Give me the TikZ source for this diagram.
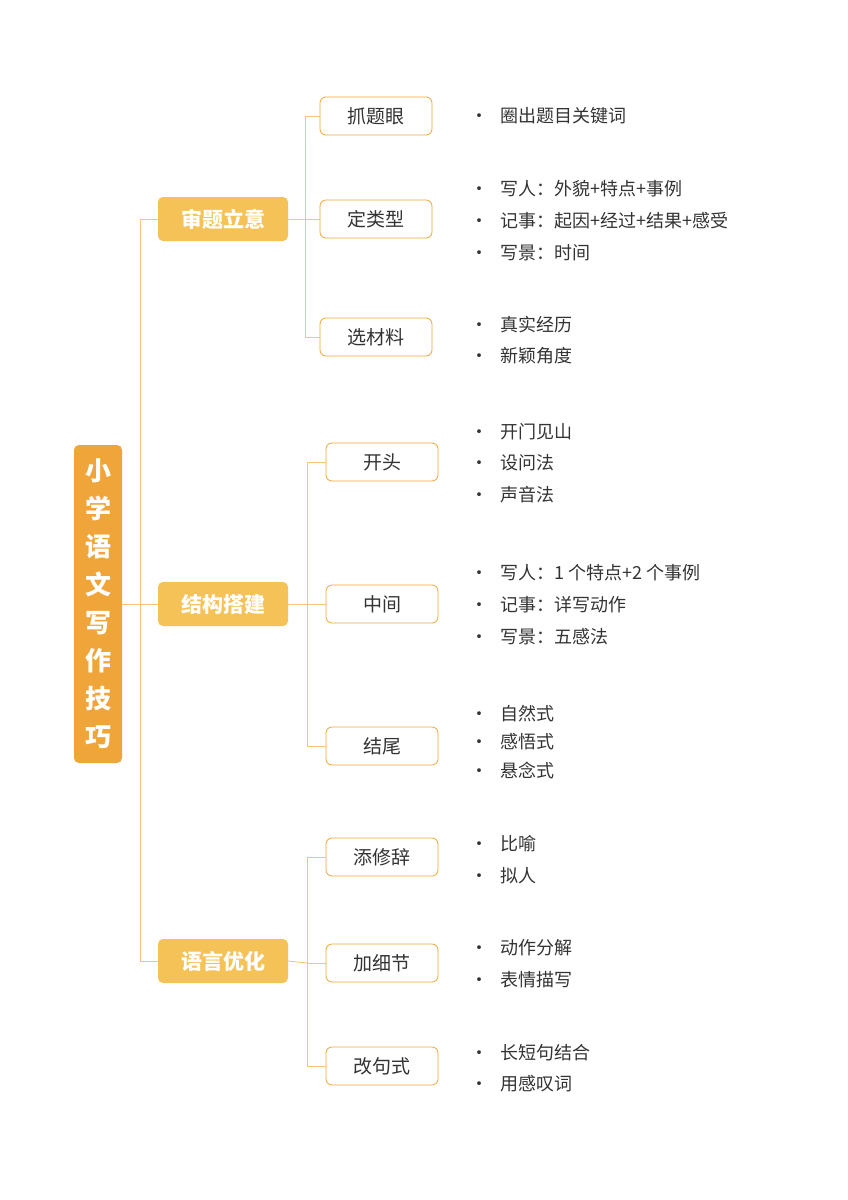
\documentclass[tikz,border=0pt]{standalone}
\usepackage{fontspec}
\setmainfont{Noto Sans CJK SC}
\definecolor{rootc}{HTML}{F0A53A}
\definecolor{lonec}{HTML}{F4C257}
\definecolor{linec}{HTML}{F5C67A}
\definecolor{txt}{HTML}{333333}
\begin{document}
\begin{tikzpicture}[x=1pt,y=-1pt,
  rootbox/.style={fill=rootc,rounded corners=5pt,minimum width=48pt,minimum height=318pt,text=white,font=\bfseries\fontsize{26}{38}\selectfont,align=center,inner sep=0pt},
  onebox/.style={fill=lonec,rounded corners=5pt,minimum width=130pt,minimum height=44pt,text=white,font=\bfseries\fontsize{21}{24}\selectfont,inner sep=0pt},
  twobox/.style={draw=rootc,fill=white,rounded corners=6pt,minimum width=112pt,minimum height=38pt,text=txt,font=\fontsize{19}{22}\selectfont,inner sep=0pt,line width=0.8pt},
  leaf/.style={anchor=west,text=txt,font=\fontsize{18}{20}\selectfont,inner sep=0pt},
  conn/.style={draw=linec,line width=0.9pt}]
\useasboundingbox (0,0) rectangle (848,1200);
\node[rootbox] (r) at (98,604) {小\\学\\语\\文\\写\\作\\技\\巧};
\node[onebox] (a) at (223,219) {审题立意};
\node[onebox] (b) at (223,604) {结构搭建};
\node[onebox] (c) at (223,961) {语言优化};
\node[twobox] (a1) at (376,116) {抓题眼};
\node[twobox] (a2) at (376,219) {定类型};
\node[twobox] (a3) at (376,337) {选材料};
\node[twobox] (b1) at (382,462) {开头};
\node[twobox] (b2) at (382,604) {中间};
\node[twobox] (b3) at (382,746) {结尾};
\node[twobox] (c1) at (382,857) {添修辞};
\node[twobox] (c2) at (382,963) {加细节};
\node[twobox] (c3) at (382,1066) {改句式};
\coordinate (rj) at (140,604);
\draw[conn] (r.east) -- (rj);
\foreach \n in {a,b,c} \draw[conn] (rj) |- (\n.west);
\coordinate (aj) at (305,219);
\draw[conn] (a.east) -- (aj);
\foreach \n in {a1,a2,a3} \draw[conn] (aj) |- (\n.west);
\coordinate (bj) at (307,604);
\draw[conn] (b.east) -- (bj);
\foreach \n in {b1,b2,b3} \draw[conn] (bj) |- (\n.west);
\coordinate (cj) at (307,963);
\draw[conn] (c.east) -- (cj);
\foreach \n in {c1,c2,c3} \draw[conn] (cj) |- (\n.west);
\foreach \y/\t [count=\i] in {116/圈出题目关键词,189/写人：外貌+特点+事例,221/记事：起因+经过+结果+感受,253/写景：时间/顺序+特点+比喻,325/真实经历,356/新颖角度,432/开门见山,463/设问法,495/声音法,573/写人：1 个特点+2 个事例,605/记事：详写动作/语言,637/写景：五感法,714/自然式,742/感悟式,771/悬念式,844/比喻,876/拟人,948/动作分解,980/表情描写,1053/长短句结合,1084/用感叹词}{
  \node[leaf] (d\i) at (470,\y) {•\hspace{12pt}\t};
}
\end{tikzpicture}
\end{document}
